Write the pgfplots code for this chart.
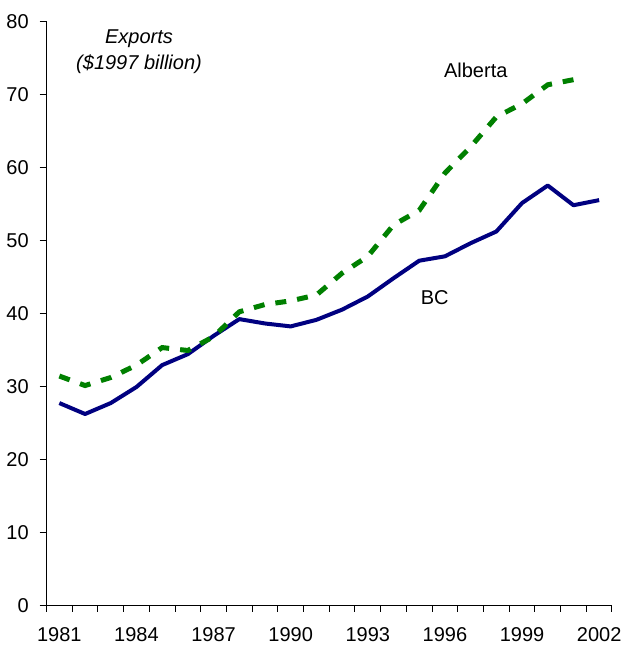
\documentclass[border=0pt]{standalone}
\usepackage{fontspec}
\setmainfont{Liberation Sans}
\usepackage{pgfplots}
\pgfplotsset{compat=1.18}
\definecolor{bcblue}{RGB}{0,0,128}
\definecolor{abgreen}{RGB}{0,128,0}
\begin{document}
\fontsize{20bp}{24bp}\selectfont
\begin{tikzpicture}
\begin{axis}[
  scale only axis, width=565.5bp, height=584bp,
  xmin=1980.5, xmax=2002.5, ymin=0, ymax=80,
  axis x line*=bottom, axis y line*=left,
  axis line style={-, line width=1bp, black},
  xtick={1981,1984,...,2002},
  minor xtick={1980.5,1981.5,...,2002.5},
  major x tick style={draw=none},
  minor x tick style={line width=1bp, black},
  ytick={0,10,...,80},
  y tick style={line width=1bp, black},
  tick align=outside,
  major tick length=7bp, minor tick length=6bp,
  /pgf/number format/1000 sep={},
  /pgf/number format/assume math mode=true,
  tick label style={font=\fontsize{20bp}{24bp}\selectfont},
  xticklabel style={yshift=-8bp},
  yticklabel style={xshift=-4bp},
  clip=false,
]
\addplot[bcblue, line width=4bp, line join=round] coordinates {
(1981,27.8) (1982,26.3) (1983,27.8) (1984,30.0) (1985,33.0) (1986,34.5)
(1987,37.0) (1988,39.3) (1989,38.7) (1990,38.3) (1991,39.2) (1992,40.6)
(1993,42.4) (1994,44.9) (1995,47.3) (1996,47.9) (1997,49.7) (1998,51.3)
(1999,55.2) (2000,57.6) (2001,54.9) (2002,55.6)};
\addplot[abgreen, line width=5bp, dash pattern=on 11bp off 11bp] coordinates {
(1981,31.5) (1982,30.2) (1983,31.3) (1984,33.0) (1985,35.4) (1986,35.0)
(1987,36.9) (1988,40.3) (1989,41.3) (1990,41.8) (1991,42.6) (1992,45.6)
(1993,47.9) (1994,52.2) (1995,54.2) (1996,59.3) (1997,62.9) (1998,67.0)
(1999,68.8) (2000,71.4) (2001,72.1)};
\node at (axis cs:1997.2,73.4) {Alberta};
\node at (axis cs:1995.6,42.2) {BC};
\node[align=center, font=\itshape\fontsize{20bp}{26bp}\selectfont] at (axis cs:1984.1,76.0) {Exports\\(\$1997 billion)};
\coordinate (sw) at (rel axis cs:0,0);
\coordinate (ne) at (rel axis cs:1,1);
\end{axis}
\pgfresetboundingbox
\useasboundingbox ([xshift=-46.5bp,yshift=-40bp]sw) rectangle ([xshift=8bp,yshift=22bp]ne);
\end{tikzpicture}
\end{document}
